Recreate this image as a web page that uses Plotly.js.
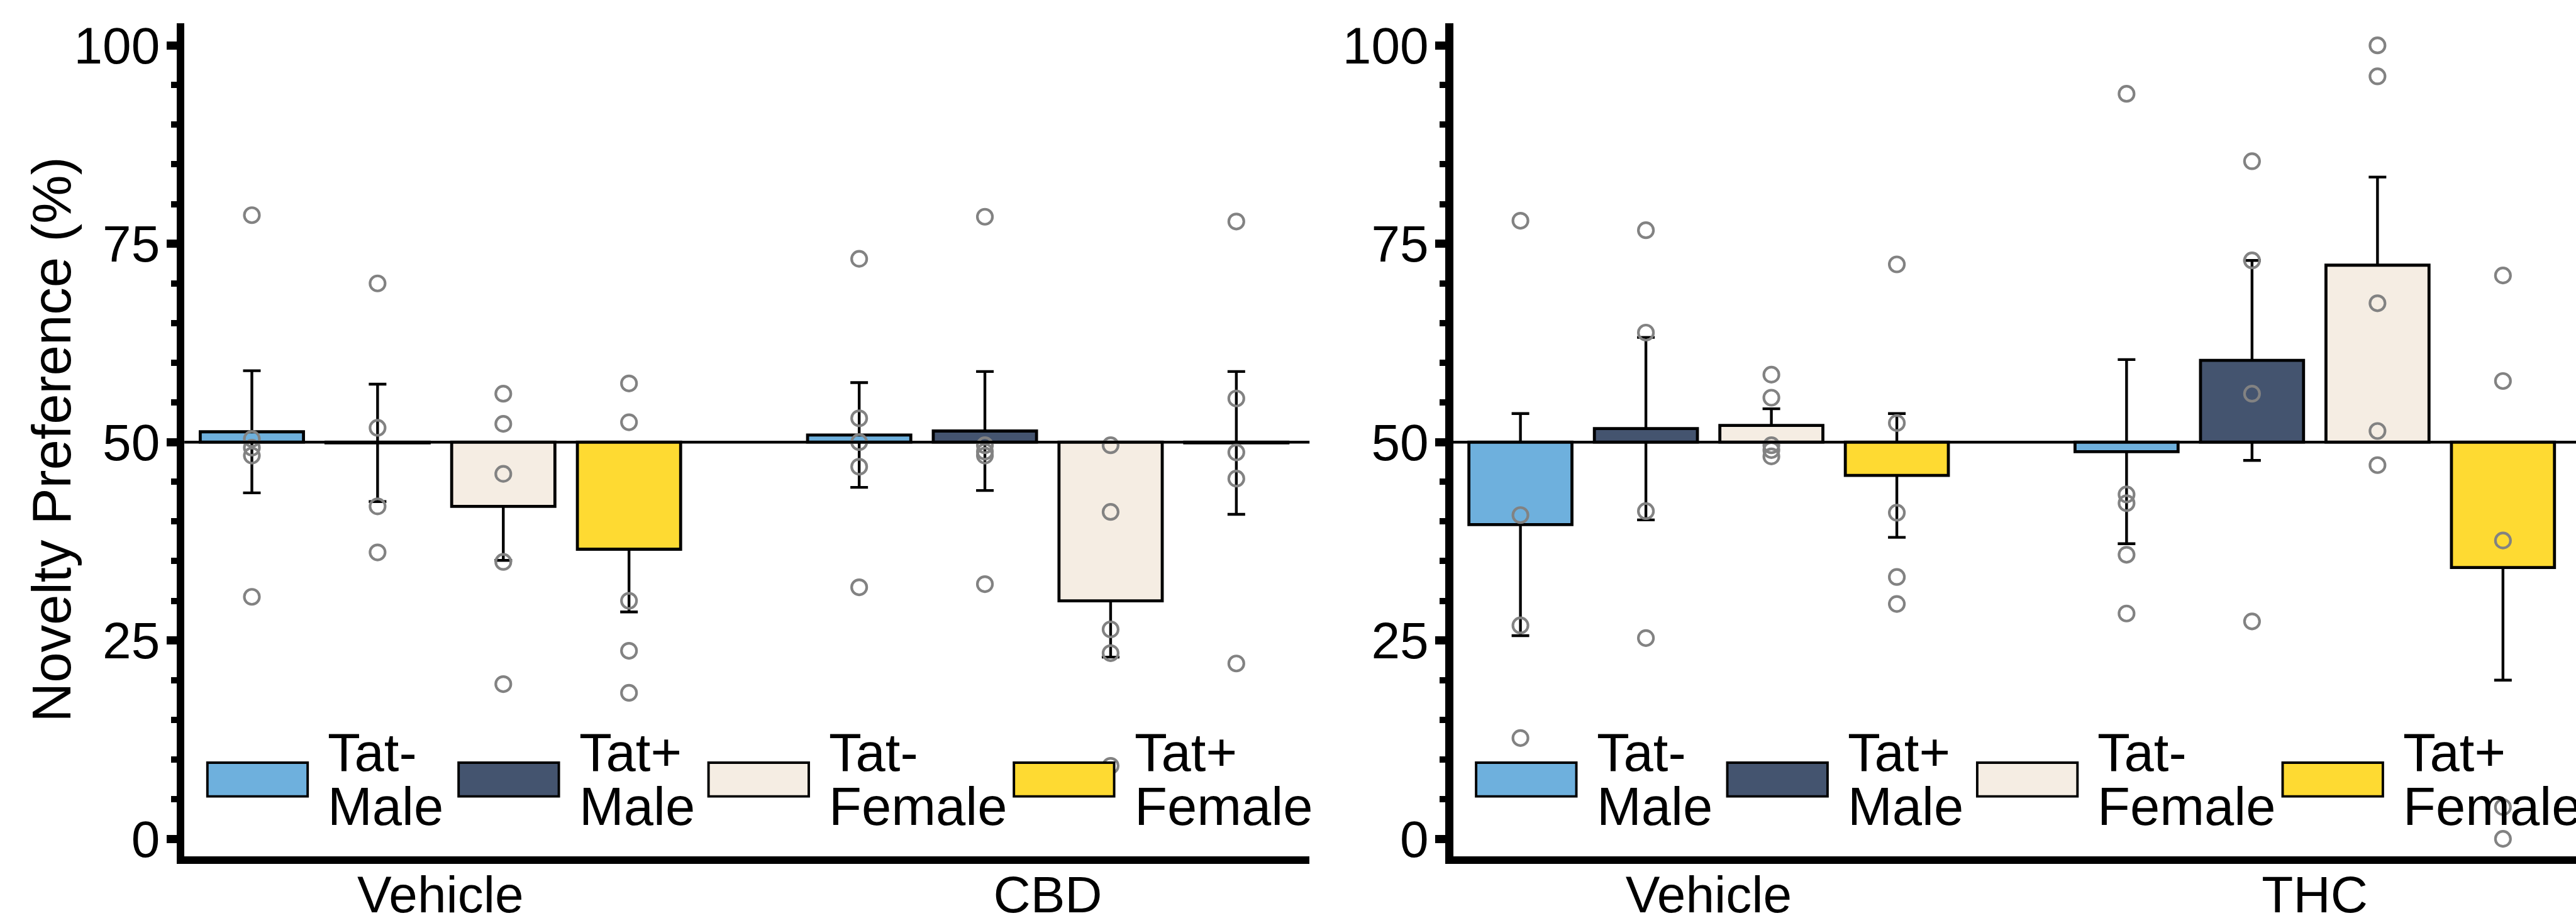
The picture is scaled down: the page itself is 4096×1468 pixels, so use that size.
<!DOCTYPE html>
<html>
<head>
<meta charset="utf-8">
<script src="https://cdn.plot.ly/plotly-3.0.1.min.js"></script>
<style>
  html, body { margin: 0; padding: 0; background: #ffffff; }
  #chart { width: 4096px; height: 1468px; }
</style>
</head>
<body>
<div id="chart"></div>
<script>
// ---------------- data ----------------
const seriesNames = ['Tat- Male', 'Tat+ Male', 'Tat- Female', 'Tat+ Female'];
const legendLine1 = ['Tat-', 'Tat+', 'Tat-', 'Tat+'];
const legendLine2 = ['Male', 'Male', 'Female', 'Female'];
const yTitle = 'Novelty Preference (%)';

const leftGroups = ['Vehicle', 'CBD'];
const rightGroups = ['Vehicle', 'THC'];
const yTicks = [0, 25, 50, 75, 100];

// means [group][series]
const leftMeans = [
  [51.3, 49.9, 41.9, 36.5],
  [50.9, 51.4, 30.0, 49.9]
];
const leftSEM = [
  [7.7, 7.4, 6.8, 7.9],
  [6.6, 7.5, 7.1, 9.0]
];
const rightMeans = [
  [39.6, 51.7, 52.1, 45.8],
  [48.8, 60.3, 72.3, 34.2]
];
const rightSEM = [
  [14.0, 11.5, 2.1, 7.8],
  [11.6, 12.6, 11.1, 14.2]
];

// individual animals [group][series][...]
const leftPoints = [
  [
    [78.6, 50.4, 49.3, 48.3, 30.5],
    [70.0, 51.8, 41.9, 36.1],
    [56.1, 52.3, 46.0, 34.9, 19.5],
    [57.4, 52.5, 30.0, 23.7, 18.4]
  ],
  [
    [73.1, 53.0, 50.0, 46.9, 31.7],
    [78.4, 49.6, 48.8, 48.3, 32.1],
    [49.6, 41.2, 26.4, 23.4, 9.2],
    [77.8, 55.5, 48.7, 45.4, 22.1]
  ]
];
const rightPoints = [
  [
    [77.9, 40.8, 26.9, 12.7],
    [76.7, 63.8, 41.3, 25.3],
    [58.5, 55.6, 49.6, 49.0, 48.2],
    [72.4, 52.4, 41.1, 33.0, 29.6]
  ],
  [
    [93.9, 43.4, 42.3, 35.8, 28.4],
    [85.4, 72.9, 56.1, 27.4],
    [100.0, 96.1, 67.5, 51.4, 47.1],
    [71.0, 57.7, 37.6, 4.0, 0.0]
  ]
];

// ---------------- style ----------------
const FONT = 'Liberation Sans, Arial, Helvetica, sans-serif';
const colors = ['#6EB0DD', '#44546F', '#F5EDE3', '#FEDA32'];
const dotColor = '#828282';
const W = 4096, H = 1468;
const slot = 0.207, barW = 0.17;
const baseline = 50;

const panels = [
  {groups: leftGroups, means: leftMeans, sem: leftSEM, pts: leftPoints, xa: 'x', ya: 'y', xdom: [0.07158, 0.50835]},
  {groups: rightGroups, means: rightMeans, sem: rightSEM, pts: rightPoints, xa: 'x2', ya: 'y2', xdom: [0.56409, 1.0]}
];

const errTraces = [], barTraces = [], dotTraces = [];
panels.forEach(p => {
  seriesNames.forEach((name, s) => {
    const off = (s - 1.5) * slot;
    const xs = p.groups.map((g, i) => i + off);
    const m = p.means.map(row => row[s]);
    const e = p.sem.map(row => row[s]);
    // transparent bar carrying the SEM whiskers; real bars drawn later cover the inner half
    errTraces.push({
      type: 'bar', x: xs, y: m.map(v => v - baseline), base: baseline, width: barW,
      xaxis: p.xa, yaxis: p.ya, showlegend: false, hoverinfo: 'skip',
      marker: {color: 'rgba(0,0,0,0)', line: {width: 0}},
      error_y: {type: 'data', array: e, symmetric: true, color: '#000', thickness: 4.4, width: 14}
    });
    // bars from the 50% baseline
    barTraces.push({
      type: 'bar', name: name, x: xs, y: m.map(v => v - baseline), base: baseline,
      width: barW, xaxis: p.xa, yaxis: p.ya, showlegend: false,
      marker: {color: colors[s], line: {color: '#000', width: 4.8}}
    });
    // individual points
    const px = [], py = [];
    p.pts.forEach((grp, i) => grp[s].forEach(v => { px.push(i + off); py.push(v); }));
    dotTraces.push({
      type: 'scatter', mode: 'markers', x: px, y: py, xaxis: p.xa, yaxis: p.ya,
      showlegend: false, hoverinfo: 'y',
      marker: {symbol: 'circle', size: 24, color: 'rgba(0,0,0,0)', line: {color: dotColor, width: 4.2}}
    });
  });
});
const traces = errTraces.concat(barTraces, dotTraces);

const ydom = [0.07228, 0.97446];
const yRange = [-2.2, 102.75];
const xRange = [-0.4216, 1.431];

function xAxis(p) {
  return {
    domain: p.xdom, range: xRange, tickvals: p.groups.map((g, i) => i), ticktext: p.groups,
    showline: true, linewidth: 12.5, linecolor: '#000', ticks: '', showgrid: false, zeroline: false,
    ticklabelstandoff: -22,
    tickfont: {family: FONT, size: 82, color: '#000'}, anchor: p.ya, fixedrange: true
  };
}
function yAxis(p) {
  return {
    domain: ydom, range: yRange, tickvals: yTicks, ticktext: yTicks.map(String),
    ticks: 'outside', ticklen: 16, tickwidth: 13, tickcolor: '#000',
    minor: {dtick: 5, ticks: 'outside', ticklen: 9, tickwidth: 10, tickcolor: '#000', showgrid: false},
    showline: true, linewidth: 12.5, linecolor: '#000', showgrid: false, zeroline: false,
    ticklabelstandoff: -6,
    tickfont: {family: FONT, size: 82, color: '#000'}, anchor: p.xa, fixedrange: true
  };
}

const shapes = [];
const annotations = [];
const legX = [36.6, 436, 833.4, 1319];   // px offsets from panel left edge
const swW = 159.4, txtOff = 189.4;
const swTop = 1213, swBot = 1266.6, line1Mid = 1196.6, line2Mid = 1282.6;

panels.forEach(p => {
  shapes.push({type: 'line', xref: p.xa + ' domain', yref: p.ya, x0: 0, x1: 1, y0: baseline, y1: baseline,
               line: {color: '#000', width: 4.5}, layer: 'above'});
  const x0 = p.xdom[0] * W;
  seriesNames.forEach((n, s) => {
    shapes.push({type: 'rect', xref: 'paper', yref: 'paper',
      x0: (x0 + legX[s]) / W, x1: (x0 + legX[s] + swW) / W,
      y0: 1 - swBot / H, y1: 1 - swTop / H,
      fillcolor: colors[s], line: {color: '#000', width: 3.9}, layer: 'above'});
    [[legendLine1[s], line1Mid], [legendLine2[s], line2Mid]].forEach(([t, ym]) => {
      annotations.push({xref: 'paper', yref: 'paper', x: (x0 + legX[s] + txtOff) / W, y: 1 - ym / H,
        xanchor: 'left', yanchor: 'middle', text: t, showarrow: false,
        font: {family: FONT, size: 85, color: '#000'}});
    });
  });
});

// y-axis title of the left panel
annotations.push({xref: 'paper', yref: 'paper', x: 82 / W, y: (ydom[0] + ydom[1]) / 2,
  xanchor: 'center', yanchor: 'middle', textangle: -90, text: yTitle, showarrow: false,
  font: {family: FONT, size: 87, color: '#000'}});

const layout = {
  width: W, height: H, margin: {l: 0, r: 0, t: 0, b: 0, pad: 0},
  paper_bgcolor: '#fff', plot_bgcolor: '#fff', showlegend: false, barmode: 'overlay',
  font: {family: FONT, color: '#000'},
  xaxis: xAxis(panels[0]), yaxis: yAxis(panels[0]),
  xaxis2: xAxis(panels[1]), yaxis2: yAxis(panels[1]),
  shapes: shapes, annotations: annotations
};

Plotly.newPlot('chart', traces, layout, {staticPlot: true, displayModeBar: false});
</script>
</body>
</html>
